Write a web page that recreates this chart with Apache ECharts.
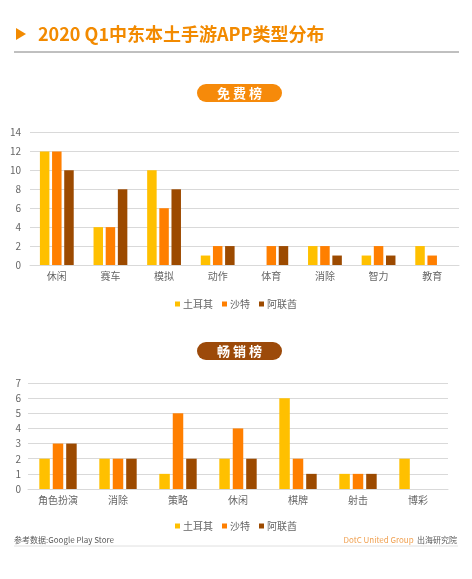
<!DOCTYPE html>
<html>
<head>
<meta charset="utf-8">
<script src="https://cdn.jsdelivr.net/npm/echarts@6/dist/echarts.min.js"></script>
<style>
html,body{margin:0;padding:0;background:#fff;}
#c{width:472px;height:579px;}
</style>
</head>
<body>
<div id="c"></div>
<script>
// ---- data ----
var seriesNames = ['土耳其', '沙特', '阿联酋'];
var freeCategories = ['休闲', '赛车', '模拟', '动作', '体育', '消除', '智力', '教育'];
var freeTurkey = [12, 4, 10, 1, 0, 2, 1, 2];
var freeSaudi  = [12, 4, 6, 2, 2, 2, 2, 1];
var freeUAE    = [10, 8, 8, 2, 2, 1, 1, 0];
var grossCategories = ['角色扮演', '消除', '策略', '休闲', '棋牌', '射击', '博彩'];
var grossTurkey = [2, 2, 1, 2, 6, 1, 2];
var grossSaudi  = [3, 2, 5, 4, 2, 1, 0];
var grossUAE    = [3, 2, 2, 2, 1, 1, 0];

var colors = ['#FFC000', '#FF7F00', '#9C4A00'];
var FONT = '"Noto Sans CJK SC", "Noto Sans", sans-serif';
var txt = '#666666';

var chart = echarts.init(document.getElementById('c'), null, {renderer: 'canvas'});

function xAx(gridIndex, data) {
  return {
    type: 'category', gridIndex: gridIndex, data: data,
    axisLine: {show: true, lineStyle: {color: '#D9D9D9'}},
    axisTick: {show: false},
    axisLabel: {color: txt, fontSize: 10, fontFamily: FONT, margin: 6, interval: 0}
  };
}
function yAx(gridIndex, max, interval, margin) {
  return {
    type: 'value', gridIndex: gridIndex, min: 0, max: max, interval: interval,
    axisLine: {show: false}, axisTick: {show: false},
    splitLine: {lineStyle: {color: '#D9D9D9', width: 1}},
    axisLabel: {color: txt, fontSize: 10, fontFamily: FONT, margin: margin}
  };
}
function bar(name, data, xi, idx, w) {
  return {
    name: name, type: 'bar', xAxisIndex: xi, yAxisIndex: xi, data: data,
    barWidth: w, barGap: '28%', itemStyle: {color: colors[idx]}, silent: true
  };
}

var option = {
  animation: false,
  color: colors,
  textStyle: {fontFamily: FONT},
  grid: [
    {left: 30, right: 13, top: 132.5, height: 132.5},
    {left: 28, right: 24, top: 383, height: 106}
  ],
  xAxis: [xAx(0, freeCategories), xAx(1, grossCategories)],
  yAxis: [yAx(0, 14, 2, 9), yAx(1, 7, 1, 7)],
  legend: [
    {data: seriesNames, top: 294, left: 'center', itemWidth: 5, itemHeight: 5, itemGap: 9,
     icon: 'rect', textStyle: {color: txt, fontSize: 10, fontFamily: FONT, padding: [0, 0, 0, -2]}},
    {data: seriesNames, top: 516, left: 'center', itemWidth: 5, itemHeight: 5, itemGap: 9,
     icon: 'rect', textStyle: {color: txt, fontSize: 10, fontFamily: FONT, padding: [0, 0, 0, -2]}}
  ],
  series: [
    bar(seriesNames[0], freeTurkey, 0, 0, 9.5),
    bar(seriesNames[1], freeSaudi, 0, 1, 9.5),
    bar(seriesNames[2], freeUAE, 0, 2, 9.5),
    bar(seriesNames[0], grossTurkey, 1, 0, 10.5),
    bar(seriesNames[1], grossSaudi, 1, 1, 10.5),
    bar(seriesNames[2], grossUAE, 1, 2, 10.5)
  ],
  graphic: [
    {type: 'polygon', shape: {points: [[16, 28], [26, 34], [16, 40]]}, style: {fill: '#F28A00'}},
    {type: 'text', left: 38, top: 25, style: {text: '2020 Q1中东本土手游APP类型分布', fill: '#F28A00',
      font: 'bold 18px ' + FONT}},
    {type: 'line', shape: {x1: 14, y1: 52, x2: 459, y2: 52}, style: {stroke: '#808080', lineWidth: 1}},
    {type: 'rect', shape: {x: 197, y: 84, width: 85, height: 18, r: 9}, style: {fill: '#F68A0A'}},
    {type: 'text', x: 239.5, y: 93, style: {text: '免 费 榜', fill: '#fff', font: 'bold 13px ' + FONT,
      align: 'center', verticalAlign: 'middle'}},
    {type: 'rect', shape: {x: 197, y: 342, width: 85, height: 18, r: 9}, style: {fill: '#9C4A0A'}},
    {type: 'text', x: 239.5, y: 351, style: {text: '畅 销 榜', fill: '#fff', font: 'bold 13px ' + FONT,
      align: 'center', verticalAlign: 'middle'}},
    {type: 'text', x: 14, y: 540, style: {text: '参考数据:Google Play Store', fill: '#595959',
      font: '8px ' + FONT, verticalAlign: 'middle'}},
    {type: 'text', x: 457, y: 540, style: {text: '{a|DotC United Group} {b|出海研究院}', align: 'right',
      verticalAlign: 'middle',
      rich: {a: {fill: '#F0A050', fontSize: 8, fontFamily: FONT}, b: {fill: '#595959', fontSize: 8, fontFamily: FONT}}}},
    {type: 'line', shape: {x1: 14, y1: 546, x2: 458, y2: 546}, style: {stroke: '#E0E0E0', lineWidth: 1}}
  ]
};
chart.setOption(option);
</script>
</body>
</html>
